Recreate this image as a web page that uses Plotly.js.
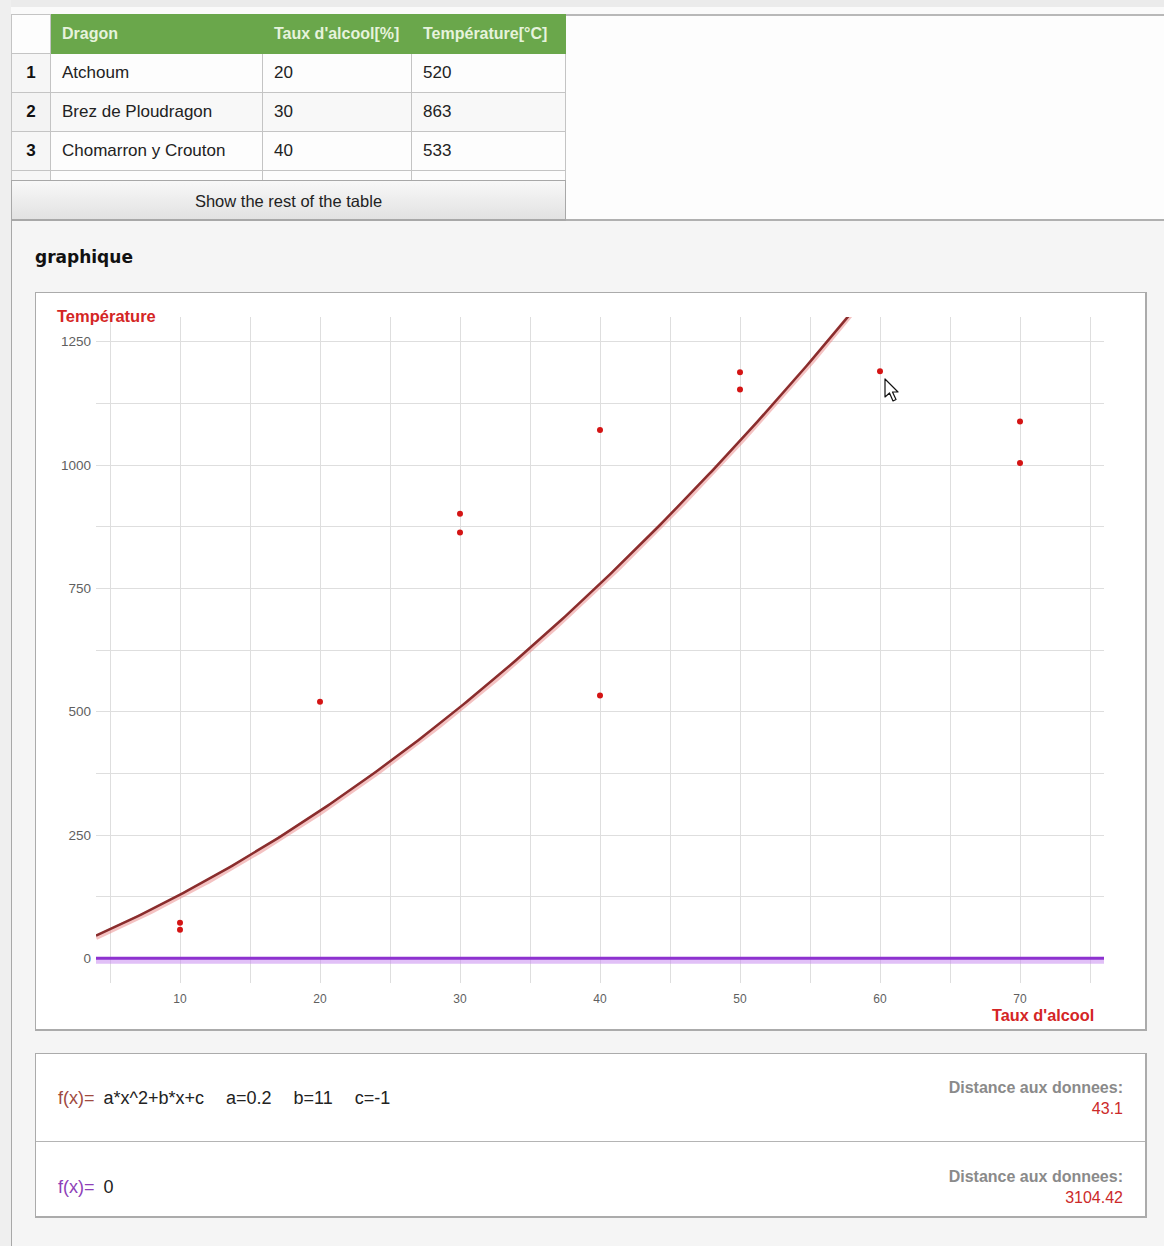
<!DOCTYPE html>
<html>
<head>
<meta charset="utf-8">
<script src="https://cdn.plot.ly/plotly-3.0.1.min.js"></script>
<style>
  html, body { margin:0; padding:0; }
  body { width:1164px; height:1246px; position:relative; overflow:hidden; background:#f5f5f5;
         font-family:"Liberation Sans", Arial, sans-serif; }
  .abs { position:absolute; box-sizing:border-box; }
  table.dt { border-collapse:collapse; position:absolute; left:11px; top:14px; }
  table.dt td, table.dt th { border:1px solid #c4c4c4; padding:0 0 0 11px; text-align:left;
      font-size:17px; color:#222; height:39px; box-sizing:border-box; white-space:nowrap; }
  table.dt th { background:#6aa74b; color:#e6f3dc; font-weight:bold; font-size:16px; border-color:#6aa74b; height:39px; }
  table.dt th.num { background:#fdfdfd; border-color:#c4c4c4; }
  table.dt td.num { background:#f6f6f6; font-weight:bold; text-align:center; padding:0; color:#111; }
  table.dt tr.r2 td { background:#f8f8f8; }
  table.dt tr.r2 td.num { background:#f3f3f3; }
  .param { margin-left:22px; }
</style>
</head>
<body>
<div class="abs" style="left:0;top:0;width:1164px;height:7px;background:#ebebeb"></div>
<div class="abs" style="left:0;top:7px;width:1164px;height:7px;background:#fafafa"></div>
<div class="abs" style="left:0;top:0;width:11px;height:1246px;background:#efefef"></div>
<!-- container borders -->
<div class="abs" style="left:11px;top:14px;width:1153px;height:207px;background:#fdfdfd;border-top:2px solid #b8b8b8;border-bottom:2px solid #b0b0b0;border-left:1px solid #a8a8a8"></div>
<div class="abs" style="left:11px;top:220px;width:1px;height:1026px;background:#a8a8a8"></div>
<div id="tablewrap"></div>
<div class="abs" id="showrest" style="left:11px;top:180px;width:555px;height:41px;border:1px solid #a8a8a8;border-bottom:2px solid #a8a8a8;background:linear-gradient(#f8f8f8,#e2e2e2);font-size:16.5px;color:#222;text-align:center;line-height:40px">Show the rest of the table</div>

<div class="abs" id="heading" style="left:35px;top:247px;font-size:17px;font-weight:bold;color:#111;font-family:'DejaVu Sans', Verdana, sans-serif">graphique</div>

<div class="abs" style="left:35px;top:292px;width:1112px;height:739px;background:#fff;border:1px solid #ababab;border-right-width:2px;border-bottom-width:2px"></div>
<div class="abs" id="chart" style="left:35px;top:292px;width:1111px;height:738px"></div>

<div class="abs" style="left:35px;top:1053px;width:1112px;height:165px;background:#fff;border:1px solid #ababab;border-right-width:2px;border-bottom-width:2px"></div>
<div class="abs" style="left:36px;top:1141px;width:1109px;height:1px;background:#b4b4b4"></div>
<div id="funcs"></div>

<svg class="abs" style="left:884px;top:378px" width="20" height="30" viewBox="0 0 20 30">
  <path d="M1 1 L1 19 L5.5 15 L9 23 L12 21.5 L8.5 14 L14 14 Z" fill="#fff" stroke="#111" stroke-width="1.2" stroke-linejoin="round"/>
</svg>

<script>
// ---- Table data ----
const tableHeaders = ["Dragon", "Taux d'alcool[%]", "Température[°C]"];
const dragonNames = ["Atchoum", "Brez de Ploudragon", "Chomarron y Crouton"];
const tableAlcohol = [20, 30, 40];
const tableTemperature = [520, 863, 533];

// ---- Scatter data ----
const alcoholPoints = [10, 10, 20, 30, 30, 40, 40, 50, 50, 60, 70, 70];
const temperaturePoints = [72, 58, 520, 901, 863, 1071, 533, 1188, 1153, 1190, 1088, 1004];

// ---- Model parameters shown on the page ----
const coefA = 0.2, coefB = 11, coefC = -1;
const modelLabel = "a*x^2+b*x+c";
const distances = [43.1, 3104.42];
const xDomain = [4, 76];

// ---- Table ----
(function(){
  const widths = [39, 212, 149, 154];
  let h = '<table class="dt"><tr><th class="num" style="width:'+widths[0]+'px"></th>';
  tableHeaders.forEach((t,i)=>{ h += '<th style="width:'+widths[i+1]+'px">'+t+'</th>'; });
  h += '</tr>';
  dragonNames.forEach((n,i)=>{
    h += '<tr class="r'+(i+1)+'"><td class="num">'+(i+1)+'</td><td>'+n+'</td><td>'+tableAlcohol[i]+'</td><td>'+tableTemperature[i]+'</td></tr>';
  });
  h += '<tr><td class="num" style="height:12px"></td><td style="height:12px"></td><td style="height:12px"></td><td style="height:12px"></td></tr>';
  h += '</table>';
  document.getElementById('tablewrap').innerHTML = h;
})();

// ---- Function panel ----
(function(){
  const rows = [
    {col:'#a04a3f', expr: modelLabel + '<span class="param">a=' + coefA + '</span><span class="param">b=' + coefB + '</span><span class="param">c=' + coefC + '</span>', top:1088, dtop:1077},
    {col:'#8e3fb8', expr: '0', top:1177, dtop:1166}
  ];
  let h = '';
  rows.forEach((r,i)=>{
    h += '<div class="abs" style="left:58px;top:'+r.top+'px;font-size:18px;color:#222;white-space:nowrap"><span style="color:'+r.col+';margin-right:4px">f(x)=</span> '+r.expr+'</div>';
    h += '<div class="abs" style="right:41px;top:'+r.dtop+'px;text-align:right;font-size:16px;font-weight:bold;color:#8a8a8a;line-height:21px">Distance aux donnees:<br><span style="font-weight:normal;color:#cc2a2a;font-size:16px">'+distances[i]+'</span></div>';
  });
  document.getElementById('funcs').innerHTML = h;
})();

// ---- Chart ----
const curveX = [], curveY = [];
for (let x = xDomain[0]; x <= xDomain[1] + 1e-9; x += 0.25) {
  curveX.push(x); curveY.push(coefA*x*x + coefB*x + coefC);
}
const zeroX = [xDomain[0], xDomain[1]];
const zeroY = [0, 0];

const traces = [
  {x: curveX, y: curveY.map(v=>v-4), mode:'lines', line:{color:'rgba(230,120,120,0.45)', width:5}, hoverinfo:'skip'},
  {x: curveX, y: curveY, mode:'lines', line:{color:'#8a2d2d', width:2.5}, hoverinfo:'skip'},
  {x: zeroX, y: zeroY.map(v=>v-5), mode:'lines', line:{color:'rgba(200,140,240,0.55)', width:6}, hoverinfo:'skip'},
  {x: zeroX, y: zeroY, mode:'lines', line:{color:'#8d32cf', width:3}, hoverinfo:'skip'},
  {x: alcoholPoints, y: temperaturePoints, mode:'markers', marker:{color:'#d41414', size:6}}
];

const tickFontY = {size:13.5, color:'#5f5f5f', family:'"Liberation Sans", Arial, sans-serif'};
const tickFontX = {size:12, color:'#5f5f5f', family:'"Liberation Sans", Arial, sans-serif'};
const layout = {
  width:1111, height:738,
  margin:{l:61, r:42, t:25, b:47},
  paper_bgcolor:'rgba(0,0,0,0)', plot_bgcolor:'#fff',
  showlegend:false,
  font:{family:'"Liberation Sans", Arial, sans-serif', size:12, color:'#5f5f5f'},
  xaxis:{range:xDomain, tick0:0, dtick:10, showgrid:true, gridcolor:'#dedede', gridwidth:1,
         zeroline:false, showline:false, ticks:'', ticklabelstandoff:7,
         minor:{tick0:0, dtick:5, showgrid:true, gridcolor:'#dedede', gridwidth:1, ticks:''},
         tickfont:tickFontX},
  yaxis:{range:[-50, 1300], tick0:0, dtick:250, showgrid:true, gridcolor:'#dedede', gridwidth:1,
         zeroline:false, showline:false, ticks:'', ticklabelstandoff:4,
         minor:{tick0:0, dtick:125, showgrid:true, gridcolor:'#dedede', gridwidth:1, ticks:''},
         tickfont:tickFontY},
  annotations:[
    {text:'<b>Température</b>', xref:'paper', yref:'paper', x:-0.0407, y:1.0015, xanchor:'left', yanchor:'middle',
     showarrow:false, font:{size:16.5, color:'#d42525', family:'"Liberation Sans", Arial, sans-serif'}},
    {text:"<b>Taux d'alcool</b>", xref:'paper', yref:'paper', x:0.992, y:-0.048, xanchor:'right', yanchor:'middle',
     showarrow:false, font:{size:16.3, color:'#d42525', family:'"Liberation Sans", Arial, sans-serif'}}
  ]
};
Plotly.newPlot('chart', traces, layout, {staticPlot:true, displayModeBar:false});
</script>
</body>
</html>
